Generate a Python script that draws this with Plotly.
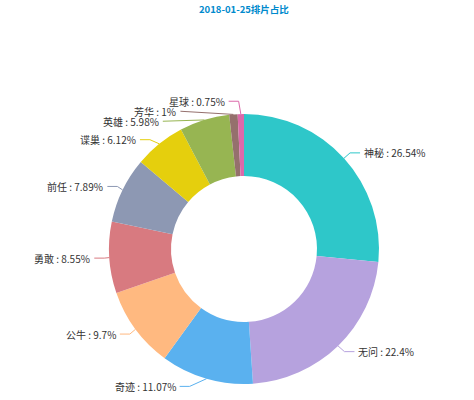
import numpy as np
import plotly.graph_objects as go

title = "2018-01-25排片占比"
names = ["神秘", "无问", "奇迹", "公牛", "勇敢", "前任", "谍巢", "英雄", "芳华", "星球"]
values = [26.54, 22.4, 11.07, 9.7, 8.55, 7.89, 6.12, 5.98, 1, 0.75]
colors = ['#2ec7c9', '#b6a2de', '#5ab1ef', '#ffb980', '#d87a80',
          '#8d98b3', '#e5cf0d', '#97b552', '#95706d', '#dc69aa']

W, H = 474, 400
CX, CY, R, R0 = 244, 249, 135, 73
LEN1, LEN2, LABEL_H = 8, 10, 10
FONT = "Noto Sans CJK SC"


def adjust_side(lst, direction):
    # echarts-like overlap avoidance for one side of the pie
    lst.sort(key=lambda l: l['y'])
    n = len(lst)

    def shift_up(end, delta):
        for j in range(end, -1, -1):
            lst[j]['y'] -= delta
            if j > 0 and lst[j]['y'] > lst[j - 1]['y'] + LABEL_H:
                break

    def shift_down(start, end, delta):
        for j in range(start, end):
            lst[j]['y'] += delta
            if j > start and j + 1 < end and lst[j + 1]['y'] > lst[j]['y'] + LABEL_H:
                shift_up(j, delta / 2)
                return
        shift_up(end - 1, delta / 2)

    last_y = 0
    for i in range(n):
        delta = lst[i]['y'] - last_y
        if delta < 0:
            shift_down(i, n, -delta)
        last_y = lst[i]['y'] + LABEL_H
    if H - last_y < 0:
        shift_up(n - 1, last_y - H)

    def change_x(sub, is_down):
        last = float('inf') if is_down else 0
        rr = R + LEN1 + LEN2
        for l in sub:
            dyy = abs(l['y'] - CY)
            if dyy < R + LEN1:
                dxx = np.sqrt(rr * rr - dyy * dyy)
            else:
                dxx = abs(l['x'] - CX)
            if is_down and dxx >= last:
                dxx = last - 10
            if not is_down and dxx <= last:
                dxx = last + 10
            l['x'] = CX + dxx * direction
            last = dxx

    change_x([l for l in lst if l['y'] < CY], False)
    change_x([l for l in lst if l['y'] >= CY], True)


def layout_labels():
    total = sum(values)
    labels = []
    start = 0
    for i, v in enumerate(values):
        mid = (start + v / 2) / total * 2 * np.pi
        start += v
        dx, dy = np.sin(mid), -np.cos(mid)
        x1, y1 = CX + R * dx, CY + R * dy
        x2, y2 = x1 + dx * LEN1, y1 + dy * LEN1
        side = -1 if dx < 0 else 1
        x3 = x2 + side * LEN2
        labels.append(dict(i=i, x=x3 + side * 5, y=y2, p1=(x1, y1), dist=x2 - x3))
    left = [l for l in labels if l['x'] < CX]
    right = [l for l in labels if l['x'] >= CX]
    adjust_side(right, 1)
    adjust_side(left, -1)
    for l in labels:
        p3x = l['x'] + 3 if l['x'] < CX else l['x'] - 3
        l['line'] = ([l['p1'][0], p3x + l['dist'], p3x], [l['p1'][1], l['y'], l['y']])
    return sorted(labels, key=lambda l: l['i'])


fig = go.Figure()

fig.add_trace(go.Pie(
    labels=names,
    values=values,
    sort=False,
    direction='clockwise',
    rotation=0,
    hole=R0 / R,
    marker=dict(colors=colors, line=dict(width=0)),
    textinfo='none',
    hoverinfo='label+value',
    showlegend=False,
    domain=dict(x=[(CX - R) / W, (CX + R) / W], y=[1 - (CY + R) / H, 1 - (CY - R) / H]),
))

annotations = []
for l in layout_labels():
    i = l['i']
    fig.add_trace(go.Scatter(
        x=l['line'][0], y=l['line'][1],
        mode='lines',
        line=dict(color=colors[i], width=1),
        hoverinfo='skip',
        showlegend=False,
    ))
    annotations.append(dict(
        x=l['x'], y=l['y'], xref='x', yref='y',
        text=f"{names[i]} : {values[i]:g}%",
        showarrow=False,
        xanchor='right' if l['x'] < CX else 'left',
        yanchor='middle',
        borderpad=0,
        font=dict(family=FONT, size=10, color='#333333'),
    ))

annotations.append(dict(
    x=CX, y=9, xref='x', yref='y',
    text=f"<b>{title}</b>",
    showarrow=False,
    xanchor='center', yanchor='middle',
    borderpad=0,
    font=dict(family=FONT, size=9.5, color='#008acd'),
))

fig.update_layout(
    width=W, height=H,
    autosize=False,
    margin=dict(l=0, r=0, t=0, b=0),
    paper_bgcolor='white',
    plot_bgcolor='rgba(0,0,0,0)',
    xaxis=dict(range=[0, W], visible=False, fixedrange=True),
    yaxis=dict(range=[H, 0], visible=False, fixedrange=True),
    annotations=annotations,
)

# drop the page's default body margin so the figure sits at the window's corner
fig.write_html("out.html", config={'displayModeBar': False},
               post_script="document.body.style.margin = '0';")
